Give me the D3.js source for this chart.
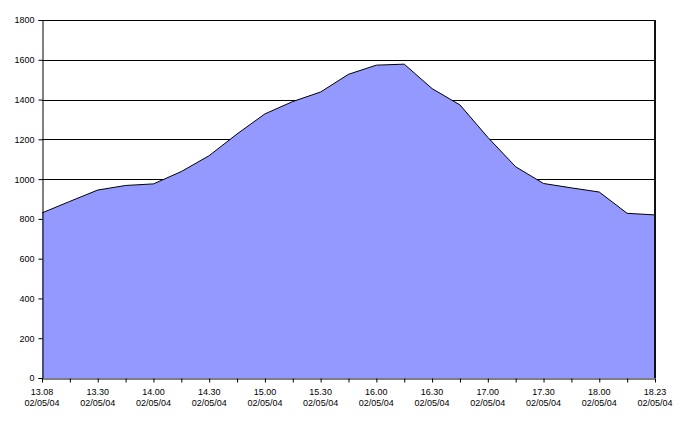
<!DOCTYPE html>
<html>
<head>
<meta charset="utf-8">
<script src="https://cdn.jsdelivr.net/npm/d3@7"></script>
<style>
  html, body { margin: 0; padding: 0; background: #fff; }
  svg { display: block; }
  text { font-family: Arial, "Liberation Sans", sans-serif; font-size: 9px; fill: #000; }
</style>
</head>
<body>
<svg id="chart" width="680" height="423"></svg>
<script>
const categories = ["13.08","13.15","13.30","13.45","14.00","14.15","14.30","14.45","15.00","15.15","15.30","15.45","16.00","16.15","16.30","16.45","17.00","17.15","17.30","17.45","18.00","18.15","18.23"];
const dateLabel = "02/05/04";
const values = [830, 888, 945, 968, 976, 1038, 1118, 1227, 1328, 1390, 1438, 1527, 1573, 1578, 1455, 1373, 1210, 1062, 978, 956, 935, 828, 820];
const yTicks = [0, 200, 400, 600, 800, 1000, 1200, 1400, 1600, 1800];

const svg = d3.select("#chart");
const mLeft = 42, mRight = 655, mTop = 20, mBottom = 378;

const x = d3.scalePoint().domain(categories).range([mLeft, mRight]);
const y = d3.scaleLinear().domain([0, 1800]).range([mBottom, mTop]);

// gridlines
svg.append("g").selectAll("line").data(yTicks.filter(d => d > 0)).join("line")
  .attr("x1", mLeft).attr("x2", mRight)
  .attr("y1", d => Math.round(y(d)) + 0.5).attr("y2", d => Math.round(y(d)) + 0.5)
  .attr("stroke", "#000").attr("stroke-width", 1);

// area
const area = d3.area().x((d, i) => x(categories[i])).y0(y(0)).y1(d => y(d));
svg.append("path").datum(values).attr("d", area).attr("fill", "#9499ff");
const line = d3.line().x((d, i) => x(categories[i])).y(d => y(d));
svg.append("path").datum(values).attr("d", line).attr("fill", "none").attr("stroke", "#000").attr("stroke-width", 1);

// right border
svg.append("line").attr("x1", mRight).attr("x2", mRight).attr("y1", mTop).attr("y2", mBottom)
  .attr("stroke", "#111").attr("stroke-width", 2);

// y axis
const yAxis = d3.axisLeft(y).tickValues(yTicks).tickSize(4).tickPadding(4).tickFormat(d3.format("d"));
const gy = svg.append("g").attr("transform", `translate(${mLeft + 0.5},0)`).call(yAxis);
gy.select(".domain").attr("stroke", "#000");
gy.selectAll(".tick line").attr("stroke", "#000");
gy.selectAll("text").style("font-size", "9px").style("font-family", "Arial, 'Liberation Sans', sans-serif").attr("fill", "#000");

// x axis
const xAxis = d3.axisBottom(x).tickSize(4).tickSizeOuter(0).tickFormat(() => "");
const gx = svg.append("g").attr("transform", `translate(0,${mBottom + 0.5})`).call(xAxis);
gx.select(".domain").attr("stroke", "#000");
gx.selectAll(".tick line").attr("stroke", "#000");

const lbl = svg.append("g");
categories.forEach((c, i) => {
  if (i % 2 !== 0) return;
  const t = lbl.append("text").attr("text-anchor", "middle").attr("x", x(c));
  t.append("tspan").attr("x", x(c)).attr("y", 395).text(c);
  t.append("tspan").attr("x", x(c)).attr("y", 406).text(dateLabel);
});
</script>
</body>
</html>
